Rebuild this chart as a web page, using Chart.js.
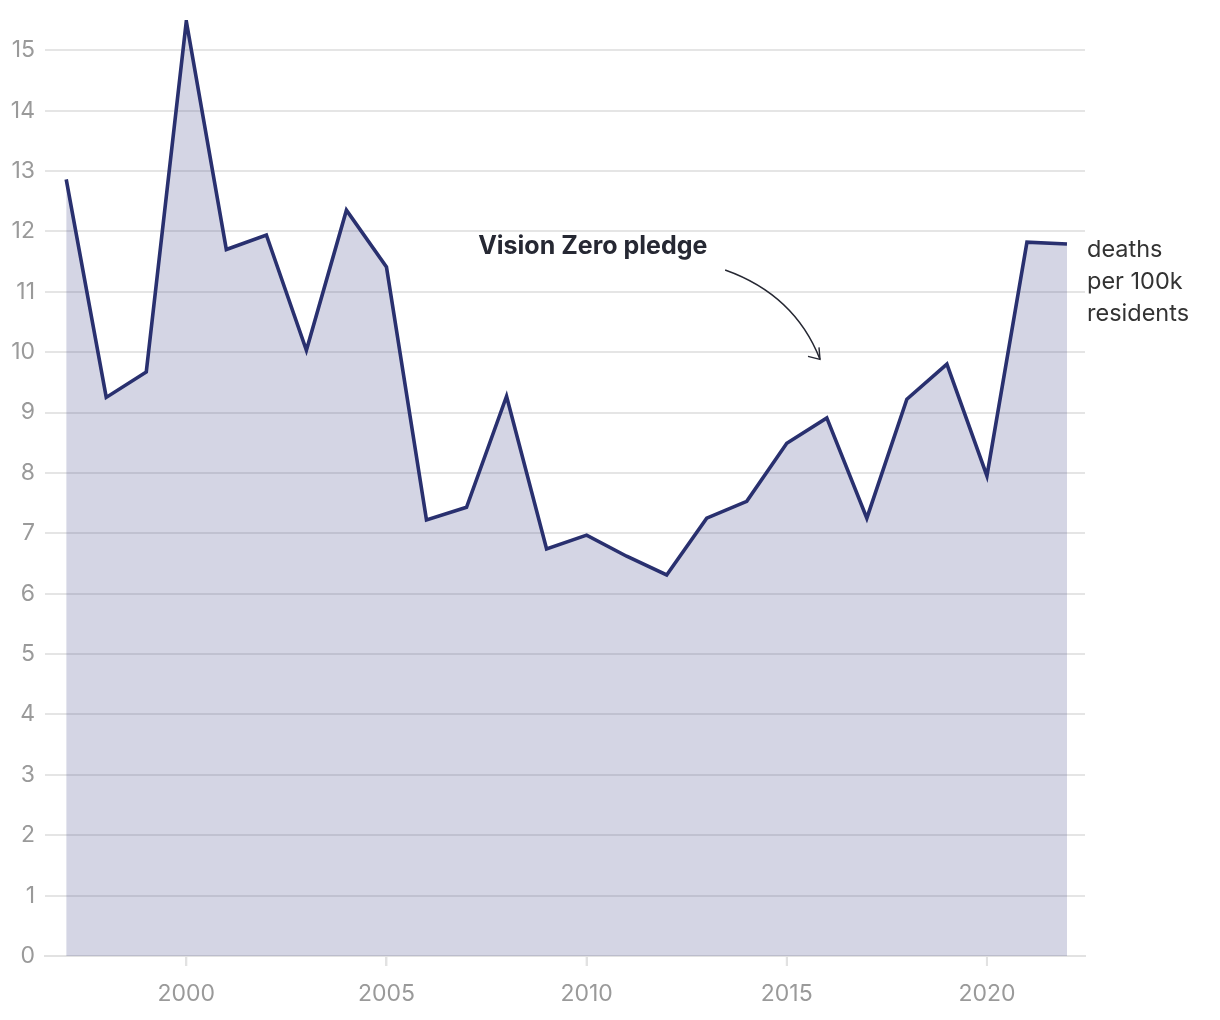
<!DOCTYPE html>
<html>
<head>
<meta charset="utf-8">
<script src="https://cdn.jsdelivr.net/npm/chart.js@4"></script>
<style>
  html, body { margin: 0; padding: 0; background: #fff; }
  #wrap { width: 1220px; height: 1020px; }
</style>
</head>
<body>
<div id="wrap"><canvas id="myChart" width="1220" height="1020"></canvas></div>
<script>
// data
const years = [1997, 1998, 1999, 2000, 2001, 2002, 2003, 2004, 2005, 2006, 2007, 2008, 2009,
  2010, 2011, 2012, 2013, 2014, 2015, 2016, 2017, 2018, 2019, 2020, 2021, 2022];
const deathRate = [12.86, 9.25, 9.67, 15.48, 11.70, 11.94, 10.03, 12.35, 11.41, 7.22, 7.43, 9.27, 6.74,
  6.97, 6.62, 6.31, 7.25, 7.53, 8.49, 8.91, 7.25, 9.22, 9.80, 7.95, 11.82, 11.79];
const xTicks = [2000, 2005, 2010, 2015, 2020];
const yTicks = [0, 1, 2, 3, 4, 5, 6, 7, 8, 9, 10, 11, 12, 13, 14, 15];
const unitLabel = ["deaths", "per 100k", "residents"];
const pledgeLabel = "Vision Zero pledge";

const FONT = "Inter, 'Open Sans', sans-serif";

// annotation text + curved arrow, plus the unit label on the right
const notes = {
  id: "notes",
  afterDatasetsDraw(chart) {
    const c = chart.ctx;
    const x = chart.scales.x, y = chart.scales.y;
    c.save();
    c.fillStyle = "#262833";
    c.font = "bold 25px " + FONT;
    c.textBaseline = "alphabetic";
    c.fillText(pledgeLabel, x.getPixelForValue(2007.29), y.getPixelForValue(11.63));

    const sx = x.getPixelForValue(2013.46), sy = y.getPixelForValue(11.36);
    const cx = x.getPixelForValue(2015.2), cy = y.getPixelForValue(10.95);
    const ex = x.getPixelForValue(2015.83), ey = y.getPixelForValue(9.88);
    c.strokeStyle = "#262833";
    c.lineWidth = 1.4;
    c.beginPath();
    c.moveTo(sx, sy);
    c.quadraticCurveTo(cx, cy, ex, ey);
    c.stroke();
    c.beginPath();
    c.moveTo(ex - 12, ey - 3);
    c.lineTo(ex, ey);
    c.lineTo(ex - 1, ey - 12);
    c.stroke();

    // small tick marks under the x axis
    c.strokeStyle = "#e2e2e2";
    c.lineWidth = 2;
    xTicks.forEach(v => {
      const px = x.getPixelForValue(v);
      c.beginPath();
      c.moveTo(px, chart.chartArea.bottom);
      c.lineTo(px, chart.chartArea.bottom + 10);
      c.stroke();
    });

    c.fillStyle = "#333333";
    c.font = "23.5px " + FONT;
    c.textBaseline = "middle";
    unitLabel.forEach((t, i) => c.fillText(t, chart.chartArea.right + 2, 250 + i * 32));
    c.restore();
  }
};

new Chart(document.getElementById("myChart"), {
  type: "line",
  data: {
    labels: years,
    datasets: [{
      data: years.map((yr, i) => ({ x: yr, y: deathRate[i] })),
      borderColor: "#29306f",
      borderWidth: 3.6,
      backgroundColor: "rgba(38, 45, 120, 0.2)",
      fill: "origin",
      pointRadius: 0,
      tension: 0,
    }],
  },
  options: {
    responsive: false,
    animation: false,
    layout: { padding: { top: 20, right: 135, left: 0, bottom: 0 } },
    plugins: { legend: { display: false }, tooltip: { enabled: false } },
    scales: {
      x: {
        type: "linear",
        min: 1996.47,
        max: 2022.45,
        afterBuildTicks: (s) => { s.ticks = xTicks.map(v => ({ value: v })); },
        afterFit: (s) => { s.height = 64; s.paddingLeft = 0; s.paddingRight = 0; },
        ticks: {
          color: "#9a9a9a",
          font: { family: FONT, size: 23 },
          padding: 14,
          maxRotation: 0,
          callback: (v) => String(v),
        },
        grid: { drawOnChartArea: false, drawTicks: true, tickLength: 10, color: "#e2e2e2", lineWidth: 2 },
        border: { display: true, color: "#e2e2e2", width: 2 },
      },
      y: {
        min: 0,
        max: 15.5,
        afterBuildTicks: (s) => { s.ticks = yTicks.map(v => ({ value: v })); },
        afterFit: (s) => { s.width = 45; s.paddingTop = 0; s.paddingBottom = 0; },
        ticks: {
          color: "#9a9a9a",
          font: { family: FONT, size: 23 },
          padding: 10,
          callback: (v) => String(v),
        },
        grid: { drawTicks: false, color: "rgba(0,0,0,0.1)", lineWidth: 2 },
        border: { display: false },
      },
    },
  },
  plugins: [notes],
});
</script>
</body>
</html>
